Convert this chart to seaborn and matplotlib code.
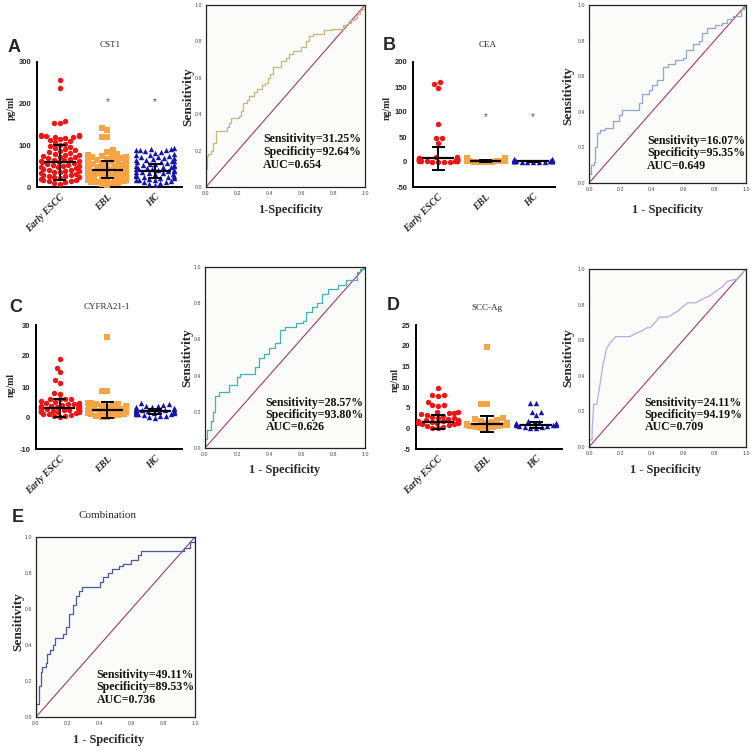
import warnings

import matplotlib
matplotlib.use("Agg")
import matplotlib.pyplot as plt
import numpy as np
import seaborn as sns

warnings.filterwarnings("ignore")

# ---- data ----
groups = ["Early ESCC", "EBL", "HC"]

escc_cst1 = [258, 238, 158, 153, 153, 124, 124, 123, 123, 122, 122, 121, 120, 118, 116,
             113, 110, 107, 104, 101, 98, 96, 93, 91, 88, 86, 84, 82, 80, 78, 77, 75, 73,
             71, 70, 68, 66, 65, 63, 62, 60, 59, 57, 56, 54, 53, 51, 50, 48, 47, 45, 44,
             42, 41, 39, 38, 36, 35, 33, 32, 30, 29, 27, 26, 24, 23, 21, 20, 18, 17, 15,
             14, 12, 10, 8]
ebl_cst1 = [142, 136, 121, 119, 88, 84, 80, 76, 75, 74, 72, 71, 69, 68, 66, 65, 63, 62,
            60, 59, 57, 56, 55, 53, 52, 50, 49, 48, 46, 45, 44, 42, 41, 40, 38, 37, 36,
            34, 33, 32, 30, 29, 28, 26, 25, 24, 22, 21, 20, 18, 17, 16, 14, 13, 12, 10,
            9, 7, 5]
hc_cst1 = [93, 92, 91, 90, 89, 88, 86, 84, 82, 80, 78, 77, 75, 73, 72, 70, 69, 67, 66,
           64, 63, 62, 60, 59, 58, 56, 55, 54, 52, 51, 50, 49, 48, 46, 45, 44, 43, 42, 40,
           39, 38, 37, 36, 34, 33, 32, 31, 30, 28, 27, 26, 25, 24, 22, 21, 20, 18, 17,
           16, 14, 13, 11, 9, 7, 5]
cst1_mean = [60, 42, 38]
cst1_sd = [42, 21.5, 17]
cst1_star = [None, 203, 205]

escc_cea = [160, 157, 149, 77, 49, 49, 39, 10, 10, 8.5, 8, 7.5, 7, 6.5, 6, 5.5, 5, 4.5,
            4, 3.8, 3.5, 3.2, 3, 2.8, 2.5, 2.2, 2, 1.8, 1.5, 1.2, 1, 0.8, 0.5, 0.2]
ebl_cea = [8.5, 8, 7, 6, 5.5, 5, 4.5, 4, 3.5, 3, 2.8, 2.5, 2.2, 2, 1.8, 1.5, 1.2, 1,
           0.8, 0.5, 0.3]
hc_cea = [6, 5.5, 5, 4.5, 4, 3.5, 3, 2.8, 2.5, 2.2, 2, 1.8, 1.5, 1.2, 1, 0.8, 0.6, 0.4, 0.2]
cea_mean = [7.5, 2.0, 1.5]
cea_sd = [22.5, 2.5, 1.5]
cea_star = [None, 89, 89]

escc_cyfra = [19, 16.2, 14.7, 12.3, 11.3, 8.0, 7.8, 6.2, 6.1, 6.0, 6.0, 5.5, 5.2, 5.0,
              4.8, 4.6, 4.4, 4.2, 4.0, 3.9, 3.8, 3.6, 3.5, 3.4, 3.3, 3.2, 3.1, 3.0, 2.9,
              2.8, 2.7, 2.6, 2.5, 2.4, 2.3, 2.2, 2.1, 2.0, 1.9, 1.8, 1.6, 1.4, 1.2, 1.0,
              0.8, 0.5, 0.2]
ebl_cyfra = [26, 8.8, 8.8, 5.0, 4.8, 4.6, 4.4, 4.2, 4.0, 3.8, 3.6, 3.4, 3.2, 3.0, 2.8,
             2.6, 2.5, 2.4, 2.2, 2.0, 1.8, 1.6, 1.4, 1.2, 1.0, 0.8, 0.6, 0.4, 0.2]
hc_cyfra = [4.8, 4.5, 4.2, 4.0, 3.8, 3.6, 3.4, 3.2, 3.0, 2.9, 2.8, 2.7, 2.6, 2.5, 2.4,
            2.3, 2.2, 2.1, 2.0, 1.9, 1.8, 1.7, 1.6, 1.5, 1.4, 1.3, 1.2, 1.0, 0.8, 0.6,
            0.3, 0.0]
cyfra_mean = [3.2, 2.5, 2.1]
cyfra_sd = [2.9, 2.6, 0.9]

escc_scc = [9.8, 8.1, 8.0, 7.8, 6.3, 5.6, 5.6, 5.5, 4.0, 3.9, 3.8, 3.6, 3.4, 3.2, 3.0,
            2.8, 2.6, 2.4, 2.2, 2.0, 1.9, 1.8, 1.7, 1.6, 1.5, 1.4, 1.3, 1.2, 1.1, 1.0,
            0.8, 0.6, 0.4, 0.2, 0.0]
ebl_scc = [19.7, 6.0, 6.0, 2.5, 2.2, 2.0, 1.8, 1.6, 1.4, 1.2, 1.1, 1.0, 0.9, 0.8, 0.7,
           0.6, 0.5, 0.4, 0.3, 0.2, 0.1]
hc_scc = [6.1, 6.1, 4.0, 4.0, 3.2, 1.8, 1.6, 1.4, 1.3, 1.2, 1.1, 1.0, 0.9, 0.8, 0.7,
          0.6, 0.5, 0.4, 0.3, 0.2, 0.1]
scc_mean = [1.6, 1.0, 0.8]
scc_sd = [1.7, 2.0, 0.8]

# ROC curves (1-specificity, sensitivity)
roc_a_fpr = [0, 0, 0.005, 0.01, 0.03, 0.045, 0.064, 0.13, 0.145, 0.16, 0.21, 0.22, 0.235,
             0.255, 0.27, 0.3, 0.32, 0.35, 0.37, 0.39, 0.4, 0.42, 0.47, 0.5, 0.52, 0.55,
             0.6, 0.63, 0.65, 0.67, 0.745, 0.79, 0.86, 0.89, 0.915, 0.935, 0.95, 0.97,
             0.98, 1.0]
roc_a_tpr = [0, 0.1, 0.17, 0.18, 0.2, 0.24, 0.31, 0.33, 0.35, 0.38, 0.39, 0.42, 0.46,
             0.48, 0.5, 0.52, 0.54, 0.56, 0.57, 0.6, 0.62, 0.66, 0.69, 0.71, 0.73, 0.75,
             0.77, 0.8, 0.83, 0.84, 0.86, 0.87, 0.89, 0.9, 0.92, 0.93, 0.95, 0.97, 0.98,
             1.0]
roc_b_fpr = [0, 0, 0.01, 0.03, 0.04, 0.05, 0.07, 0.1, 0.15, 0.19, 0.21, 0.32, 0.34, 0.38,
             0.4, 0.43, 0.47, 0.5, 0.55, 0.6, 0.62, 0.66, 0.7, 0.72, 0.75, 0.8, 0.85,
             0.88, 0.92, 0.97, 0.99, 1.0]
roc_b_tpr = [0, 0.05, 0.1, 0.12, 0.2, 0.28, 0.3, 0.31, 0.35, 0.38, 0.41, 0.45, 0.5, 0.52,
             0.55, 0.58, 0.65, 0.67, 0.69, 0.7, 0.75, 0.78, 0.8, 0.84, 0.87, 0.89, 0.9,
             0.92, 0.94, 0.98, 0.99, 1.0]
roc_c_fpr = [0, 0, 0.01, 0.04, 0.05, 0.06, 0.09, 0.15, 0.2, 0.22, 0.31, 0.34, 0.37, 0.4,
             0.44, 0.47, 0.5, 0.57, 0.61, 0.63, 0.67, 0.7, 0.73, 0.77, 0.83, 0.88, 0.95,
             0.97, 1.0]
roc_c_tpr = [0, 0.05, 0.1, 0.15, 0.2, 0.29, 0.31, 0.35, 0.39, 0.41, 0.45, 0.5, 0.52, 0.55,
             0.58, 0.65, 0.67, 0.69, 0.7, 0.75, 0.78, 0.8, 0.85, 0.88, 0.9, 0.93, 0.97,
             0.99, 1.0]
roc_d_fpr = [0, 0, 0.02, 0.02, 0.03, 0.05, 0.06, 0.07, 0.09, 0.1, 0.11, 0.13, 0.15, 0.17,
             0.26, 0.28, 0.33, 0.37, 0.39, 0.42, 0.45, 0.5, 0.52, 0.56, 0.6, 0.63, 0.68,
             0.72, 0.77, 0.8, 0.85, 0.88, 0.92, 0.94, 1.0]
roc_d_tpr = [0, 0.04, 0.04, 0.1, 0.24, 0.24, 0.3, 0.35, 0.47, 0.5, 0.55, 0.58, 0.6, 0.62,
             0.62, 0.63, 0.65, 0.67, 0.67, 0.7, 0.73, 0.73, 0.74, 0.76, 0.79, 0.81, 0.81,
             0.83, 0.85, 0.87, 0.9, 0.93, 0.94, 0.94, 1.0]
roc_e_fpr = [0, 0, 0.02, 0.03, 0.04, 0.06, 0.07, 0.09, 0.11, 0.12, 0.17, 0.19, 0.21, 0.23,
             0.25, 0.27, 0.29, 0.38, 0.4, 0.42, 0.45, 0.48, 0.52, 0.55, 0.6, 0.64, 0.66,
             0.92, 0.93, 0.97, 1.0]
roc_e_tpr = [0, 0.07, 0.17, 0.25, 0.28, 0.3, 0.35, 0.37, 0.4, 0.44, 0.46, 0.5, 0.57, 0.62,
             0.67, 0.7, 0.72, 0.72, 0.75, 0.78, 0.8, 0.82, 0.84, 0.85, 0.87, 0.9, 0.92,
             0.92, 0.94, 0.97, 1.0]

roc_stats = {
    "A": ("31.25%", "92.64%", "0.654"),
    "B": ("16.07%", "95.35%", "0.649"),
    "C": ("28.57%", "93.80%", "0.626"),
    "D": ("24.11%", "94.19%", "0.709"),
    "E": ("49.11%", "89.53%", "0.736"),
}

# ---- style ----
sns.set_style("white")
SERIF = ["Liberation Serif", "DejaVu Serif"]
SANS = ["Liberation Sans", "DejaVu Sans"]
plt.rcParams["font.family"] = SANS
plt.rcParams["axes.unicode_minus"] = False

colors = ["#f01414", "#f7a445", "#1414b4"]
markers = ["o", "s", "^"]

W = H = 753
fig = plt.figure(figsize=(W / 100, H / 100), dpi=100)
fig.patch.set_facecolor("white")


def pax(x0, y0, x1, y1):
    return fig.add_axes([x0 / W, 1 - y1 / H, (x1 - x0) / W, (y1 - y0) / H])


def ftext(x, y, s, **kw):
    fig.text(x / W, 1 - y / H, s, **kw)


def draw_scatter(box, values, means, sds, ylim, ystep, xlim, stars=None):
    ax = pax(*box)
    for name, vals, color, marker in zip(groups, values, colors, markers):
        sns.swarmplot(x=[name] * len(vals), y=vals, order=groups, color=color,
                      marker=marker, size=3.9, linewidth=0, ax=ax)
    pos = np.arange(3)
    means = np.array(means, dtype=float)
    sds = np.array(sds, dtype=float)
    lo, hi = means - sds, means + sds
    ax.hlines(means, pos - 0.33, pos + 0.33, color="black", lw=1.6, zorder=10)
    ax.vlines(pos, lo, hi, color="black", lw=1.4, zorder=10)
    ax.hlines(lo, pos - 0.14, pos + 0.14, color="black", lw=1.4, zorder=10)
    ax.hlines(hi, pos - 0.14, pos + 0.14, color="black", lw=1.4, zorder=10)
    if stars:
        for p, s in zip(pos, stars):
            if s is not None:
                ax.text(p, s, "*", ha="center", va="center", fontsize=7, color="#555555")
    ax.set_xlim(*xlim)
    ax.set_ylim(*ylim)
    ax.set_yticks(np.arange(ylim[0], ylim[1] + ystep / 2, ystep))
    ax.set_facecolor("white")
    for side in ["top", "right"]:
        ax.spines[side].set_visible(False)
    for side in ["left", "bottom"]:
        ax.spines[side].set_linewidth(1.4)
        ax.spines[side].set_color("black")
    ax.tick_params(axis="y", length=3, width=1.2, pad=1, labelsize=5.5)
    ax.tick_params(axis="x", length=3, width=1.2, pad=1)
    for lab in ax.get_yticklabels():
        lab.set_fontweight("bold")
    ax.set_xticks(pos)
    ax.set_xticklabels(groups, rotation=45, ha="right", rotation_mode="anchor",
                       fontsize=7, fontweight="bold", fontstyle="italic", family=SERIF)
    ax.set_xlabel("")
    ax.set_ylabel("")
    return ax


def draw_roc(box, fpr, tpr, color, stats, txt_x, txt_y, step=True):
    ax = pax(*box)
    ax.set_facecolor("#fbfbf9")
    ax.plot([0, 1], [0, 1], color="#9c3a78", lw=0.8)
    ax.plot(fpr, tpr, color=color, lw=0.9, drawstyle="steps-post" if step else "default")
    ax.set_xlim(0, 1)
    ax.set_ylim(0, 1)
    ticks = np.arange(0, 1.01, 0.2)
    ax.set_xticks(ticks)
    ax.set_yticks(ticks)
    ax.set_xticklabels([f"{t:.1f}" for t in ticks])
    ax.set_yticklabels([f"{t:.1f}" for t in ticks])
    ax.tick_params(length=1.5, width=0.5, pad=1.5, labelsize=3.8, colors="#444444")
    for sp in ax.spines.values():
        sp.set_visible(True)
        sp.set_linewidth(0.9)
        sp.set_color("#222222")
    sens, spec, auc = stats
    lines = [f"Sensitivity={sens}", f"Specificity={spec}", f"AUC={auc}"]
    for s, y in zip(lines, txt_y):
        ax.text(txt_x, y, s, transform=ax.transAxes, ha="left", va="center",
                fontsize=8.6, fontweight="bold", family=SERIF, color="#111111")
    return ax


# ---- panel A ----
draw_scatter((37, 62, 182, 187), [escc_cst1, ebl_cst1, hc_cst1], cst1_mean, cst1_sd,
             (0, 300), 100, (-0.48, 2.57), cst1_star)
draw_roc((206, 5, 365, 187), roc_a_fpr, roc_a_tpr, "#c9b37c", roc_stats["A"],
         0.36, [0.266, 0.19, 0.12])

# ---- panel B ----
draw_scatter((413, 62, 555, 187), [escc_cea, ebl_cea, hc_cea], cea_mean, cea_sd,
             (-50, 200), 50, (-0.53, 2.46), cea_star)
draw_roc((589, 5, 746, 183), roc_b_fpr, roc_b_tpr, "#8fa7ca", roc_stats["B"],
         0.37, [0.236, 0.166, 0.098])

# ---- panel C ----
draw_scatter((36, 325, 182, 449), [escc_cyfra, ebl_cyfra, hc_cyfra], cyfra_mean, cyfra_sd,
             (-10, 30), 10, (-0.5, 2.57))
draw_roc((205, 267, 365, 448), roc_c_fpr, roc_c_tpr, "#3db3b3", roc_stats["C"],
         0.38, [0.25, 0.18, 0.115])

# ---- panel D ----
draw_scatter((416, 325, 562, 449), [escc_scc, ebl_scc, hc_scc], scc_mean, scc_sd,
             (-5, 25), 5, (-0.45, 2.53))
draw_roc((589, 269, 746, 447), roc_d_fpr, roc_d_tpr, "#b8a8e4", roc_stats["D"],
         0.355, [0.247, 0.178, 0.11], step=False)

# ---- panel E ----
draw_roc((36, 537, 195, 717), roc_e_fpr, roc_e_tpr, "#4a5a9c", roc_stats["E"],
         0.38, [0.235, 0.167, 0.096])

# ---- figure texts ----
for letter, x, y in [("A", 14, 47), ("B", 389, 45), ("C", 16, 307), ("D", 393, 305),
                     ("E", 18, 517)]:
    ftext(x, y, letter, ha="center", va="center", fontsize=13, fontweight="bold",
          family=SANS)

for title, x, y, fs in [("CST1", 110, 45, 6.5), ("CEA", 488, 45, 6.5),
                        ("CYFRA21-1", 107, 307, 6.5), ("SCC-Ag", 487, 308, 6.5),
                        ("Combination", 107, 516, 8)]:
    ftext(x, y, title, ha="center", va="center", fontsize=fs, family=SERIF)

for lab, x, y in [("pg/ml", 11, 108), ("ng/ml", 387, 108), ("ng/ml", 11, 385),
                  ("ng/ml", 395, 380)]:
    ftext(x, y, lab, ha="center", va="center", rotation=90, fontsize=7,
          fontweight="bold", family=SERIF)

for x, y in [(188, 97), (568, 96), (187, 358), (568, 358), (18, 622)]:
    ftext(x, y, "Sensitivity", ha="center", va="center", rotation=90, fontsize=9.5,
          fontweight="bold", family=SERIF)

for lab, x, y in [("1-Specificity", 290, 210), ("1 - Specificity", 668, 210),
                  ("1 - Specificity", 285, 470), ("1 - Specificity", 666, 470),
                  ("1 - Specificity", 109, 740)]:
    ftext(x, y, lab, ha="center", va="center", fontsize=8.8, fontweight="bold",
          family=SERIF)

fig.savefig("out.png", dpi=100, facecolor="white")
